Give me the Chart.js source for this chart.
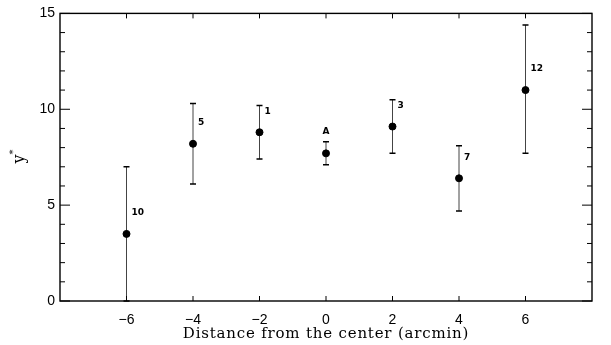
<!DOCTYPE html>
<html>
<head>
<meta charset="utf-8">
<script src="https://cdn.jsdelivr.net/npm/chart.js@4.4.1/dist/chart.umd.min.js"></script>
<style>
  html, body { margin: 0; padding: 0; background: #fff; }
  #wrap { width: 611px; height: 345px; }
</style>
</head>
<body>
<div id="wrap"><canvas id="chart"></canvas></div>
<script>
// values
const distances = [-6, -4, -2, 0, 2, 4, 6];
const yStar = [3.5, 8.2, 8.8, 7.7, 9.1, 6.4, 11.0];
const yLow = [0.0, 6.1, 7.4, 7.1, 7.7, 4.7, 7.7];
const yHigh = [7.0, 10.3, 10.2, 8.3, 10.5, 8.1, 14.4];
const fieldNames = ["10", "5", "1", "A", "3", "7", "12"];
const xTickValues = [-6, -4, -2, 0, 2, 4, 6];
const yMinorTicks = [0, 1, 2, 3, 4, 5, 6, 7, 8, 9, 10, 11, 12, 13, 14, 15];

// error bars, field labels, boxed frame with inward ticks on all sides
const framePlugin = {
  id: "frame",
  beforeDatasetsDraw(chart) {
    const { ctx, scales: { x, y } } = chart;
    ctx.save();
    distances.forEach((d, i) => {
      const px = x.getPixelForValue(d);
      const top = y.getPixelForValue(yHigh[i]);
      const bot = y.getPixelForValue(yLow[i]);
      ctx.strokeStyle = "#444";
      ctx.lineWidth = 1;
      ctx.beginPath();
      ctx.moveTo(px, top);
      ctx.lineTo(px, bot);
      ctx.stroke();
      ctx.strokeStyle = "#000";
      ctx.lineWidth = 1.5;
      ctx.beginPath();
      ctx.moveTo(px - 3, top);
      ctx.lineTo(px + 3, top);
      ctx.moveTo(px - 3, bot);
      ctx.lineTo(px + 3, bot);
      ctx.stroke();
    });
    ctx.restore();
  },
  afterDatasetsDraw(chart) {
    const { ctx, chartArea: a, scales: { x, y } } = chart;
    ctx.save();
    // labels next to points
    ctx.fillStyle = "#000";
    ctx.font = "bold 9px 'DejaVu Sans'";
    ctx.textBaseline = "middle";
    distances.forEach((d, i) => {
      const px = x.getPixelForValue(d);
      const py = y.getPixelForValue(yStar[i]);
      if (fieldNames[i] === "A") {
        ctx.textAlign = "center";
        ctx.fillText(fieldNames[i], px, py - 22);
      } else {
        ctx.textAlign = "left";
        ctx.fillText(fieldNames[i], px + 5, py - 21);
      }
    });

    // frame
    ctx.strokeStyle = "#000";
    ctx.lineWidth = 1.4;
    ctx.strokeRect(a.left, a.top, a.right - a.left, a.bottom - a.top);

    ctx.lineWidth = 1;
    ctx.beginPath();
    xTickValues.forEach(v => {
      const px = x.getPixelForValue(v);
      ctx.moveTo(px, a.bottom);
      ctx.lineTo(px, a.bottom - 5);
      ctx.moveTo(px, a.top);
      ctx.lineTo(px, a.top + 5);
    });
    yMinorTicks.forEach(v => {
      const py = y.getPixelForValue(v);
      const len = v % 5 === 0 ? 10 : 5;
      ctx.moveTo(a.left, py);
      ctx.lineTo(a.left + len, py);
      ctx.moveTo(a.right, py);
      ctx.lineTo(a.right - len, py);
    });
    ctx.stroke();

    // axis titles
    ctx.font = "15px 'DejaVu Serif'";
    ctx.letterSpacing = "0.8px";
    ctx.textAlign = "center";
    ctx.textBaseline = "alphabetic";
    ctx.fillText("Distance from the center (arcmin)", (a.left + a.right) / 2, 338);
    ctx.letterSpacing = "0px";
    ctx.translate(24, 159);
    ctx.rotate(-Math.PI / 2);
    ctx.font = "16px 'DejaVu Serif'";
    ctx.fillText("y", 0, 0);
    ctx.font = "10px 'DejaVu Serif'";
    ctx.fillText("*", 7, -8);
    ctx.restore();
  }
};

new Chart(document.getElementById("chart"), {
  type: "scatter",
  data: {
    datasets: [{
      data: distances.map((d, i) => ({ x: d, y: yStar[i] })),
      backgroundColor: "#000",
      borderColor: "#000",
      pointRadius: 3.5,
      pointHoverRadius: 3.5
    }]
  },
  options: {
    responsive: true,
    maintainAspectRatio: false,
    animation: false,
    layout: { padding: { top: 10, right: 19, left: 0, bottom: 0 } },
    plugins: { legend: { display: false }, tooltip: { enabled: false } },
    scales: {
      x: {
        type: "linear",
        min: -8,
        max: 8,
        grid: { display: false, drawTicks: false },
        border: { display: false },
        afterBuildTicks: s => { s.ticks = xTickValues.map(v => ({ value: v })); },
        ticks: {
          color: "#000",
          padding: 11,
          font: { family: "'Liberation Sans'", size: 14 },
          callback: v => (v < 0 ? "\u2212" + Math.abs(v) : String(v))
        },
        afterFit: s => { s.height = 44; }
      },
      y: {
        min: 0,
        max: 15,
        grid: { display: false, drawTicks: false },
        border: { display: false },
        ticks: {
          stepSize: 5,
          color: "#000",
          padding: 5,
          font: { family: "'Liberation Sans'", size: 14 }
        },
        afterFit: s => { s.width = 60; }
      }
    }
  },
  plugins: [framePlugin]
});
</script>
</body>
</html>
